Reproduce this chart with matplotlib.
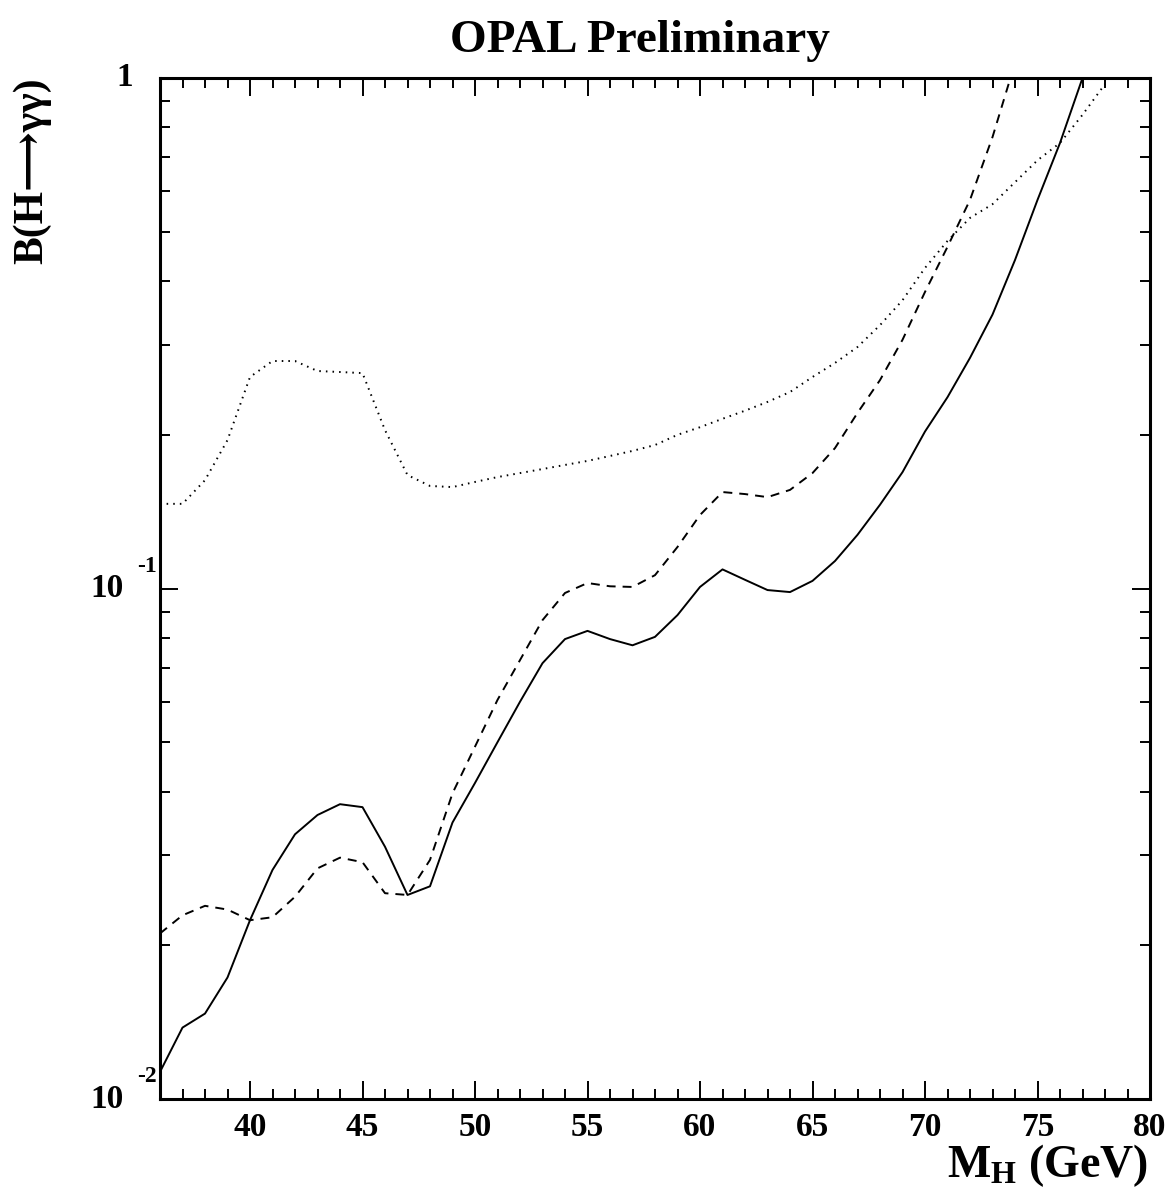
import matplotlib
matplotlib.use('Agg')
import matplotlib.pyplot as plt
from matplotlib.ticker import FixedLocator, NullFormatter
from matplotlib.transforms import offset_copy

plt.rcParams['font.family'] = ['Liberation Serif', 'DejaVu Serif', 'DejaVu Sans']
plt.rcParams['font.weight'] = 'bold'
plt.rcParams['mathtext.fontset'] = 'custom'
plt.rcParams['mathtext.rm'] = 'Liberation Serif:bold'
plt.rcParams['mathtext.bf'] = 'Liberation Serif:bold'
plt.rcParams['mathtext.it'] = 'Liberation Serif:bold'

# observed limit (solid)
mass_obs = list(range(36, 78))
br_obs = [0.0113, 0.0138, 0.0147, 0.0173, 0.0224, 0.0281, 0.0330, 0.0360, 0.0378, 0.0373,
          0.0312, 0.0251, 0.0261, 0.0348, 0.0416, 0.0500, 0.0600, 0.0714, 0.0796, 0.0826,
          0.0796, 0.0774, 0.0804, 0.0887, 0.1007, 0.109, 0.104, 0.0993, 0.0984, 0.1035,
          0.1132, 0.1274, 0.1459, 0.169, 0.203, 0.237, 0.283, 0.344, 0.440, 0.577,
          0.746, 1.0]

# expected limit (dashed)
mass_exp = list(range(36, 75))
br_exp = [0.0211, 0.0229, 0.0239, 0.0235, 0.0224, 0.0227, 0.0249, 0.0283, 0.0297, 0.0291,
          0.0253, 0.0251, 0.0294, 0.0397, 0.0490, 0.0605, 0.0724, 0.0867, 0.098, 0.1025,
          0.101, 0.1007, 0.1062, 0.1206, 0.1393, 0.1545, 0.1531, 0.151, 0.156, 0.1683,
          0.1884, 0.2208, 0.256, 0.307, 0.381, 0.467, 0.577, 0.766, 1.07]

# dotted curve
mass_dot = list(range(36, 79))
br_dot = [0.1465, 0.1465, 0.163, 0.1953, 0.2596, 0.279, 0.279, 0.2667, 0.2655, 0.2642,
          0.2043, 0.1668, 0.1588, 0.158, 0.1617, 0.1653, 0.1683, 0.1714, 0.1746, 0.1778,
          0.1818, 0.186, 0.191, 0.200, 0.207, 0.215, 0.223, 0.232, 0.2426, 0.2596,
          0.2766, 0.2972, 0.328, 0.367, 0.4246, 0.4795, 0.532, 0.566, 0.625, 0.690,
          0.746, 0.847, 0.973]

x_ticks = [40, 45, 50, 55, 60, 65, 70, 75, 80]

fig = plt.figure(figsize=(11.7, 11.98), dpi=100)
ax = fig.add_axes([160 / 1170, 1 - 1099 / 1198, 990 / 1170, 1021 / 1198])

lw = 1.4
ax.plot(mass_obs, br_obs, color='black', linewidth=lw)
ax.plot(mass_exp, br_exp, color='black', linewidth=lw, linestyle=(0, (4.6, 3.6)))
ax.plot(mass_dot, br_dot, color='black', linewidth=lw, linestyle=(0, (0.8, 2.6)))

ax.set_yscale('log')
ax.set_xlim(36, 80)
ax.set_ylim(0.01, 1)

ax.xaxis.set_major_locator(FixedLocator(x_ticks))
ax.xaxis.set_minor_locator(FixedLocator(range(37, 80)))
ax.set_xticklabels([str(t) for t in x_ticks])
minor_y = [m * 10.0 ** e for e in (-2, -1) for m in range(2, 10)]
ax.yaxis.set_major_locator(FixedLocator([0.01, 0.1, 1]))
ax.yaxis.set_minor_locator(FixedLocator(minor_y))
ax.yaxis.set_major_formatter(NullFormatter())
ax.yaxis.set_minor_formatter(NullFormatter())

ax.tick_params(which='both', direction='in', top=True, right=True, width=1.4, color='black')
ax.tick_params(which='major', length=13)
ax.tick_params(which='minor', length=7)
ax.tick_params(axis='x', which='major', labelsize=24, pad=9)
for lab in ax.get_xticklabels():
    lab.set_fontweight('bold')
for s in ax.spines.values():
    s.set_linewidth(2.2)

# ROOT-style y labels
ytr = ax.get_yaxis_transform()
ax.text(-0.027, 1.0, '1', transform=ytr, ha='right', va='center', fontsize=24, fontweight='bold')
for val, sup in [(0.1, '-1'), (0.01, '-2')]:
    ax.text(-0.037, val, '10', transform=ytr, ha='right', va='center', fontsize=24, fontweight='bold')
    ax.text(-0.0232, val, sup, transform=offset_copy(ytr, fig=fig, x=0, y=22, units='dots'),
            ha='left', va='center', fontsize=17, fontweight='bold')

fig.text(0.547, 0.966, 'OPAL Preliminary', ha='center', va='center', fontsize=34, fontweight='bold')
fig.text(0.981, 0.027, r'$\mathbf{M_H}$ (GeV)', ha='right', va='center', fontsize=33, fontweight='bold')
fig.text(0.027, 0.935, 'B(H\u27f6\u03b3\u03b3)', rotation=90, ha='center', va='top', fontsize=30,
         fontweight='bold')

fig.savefig('out.png', dpi=100)
plt.close(fig)
